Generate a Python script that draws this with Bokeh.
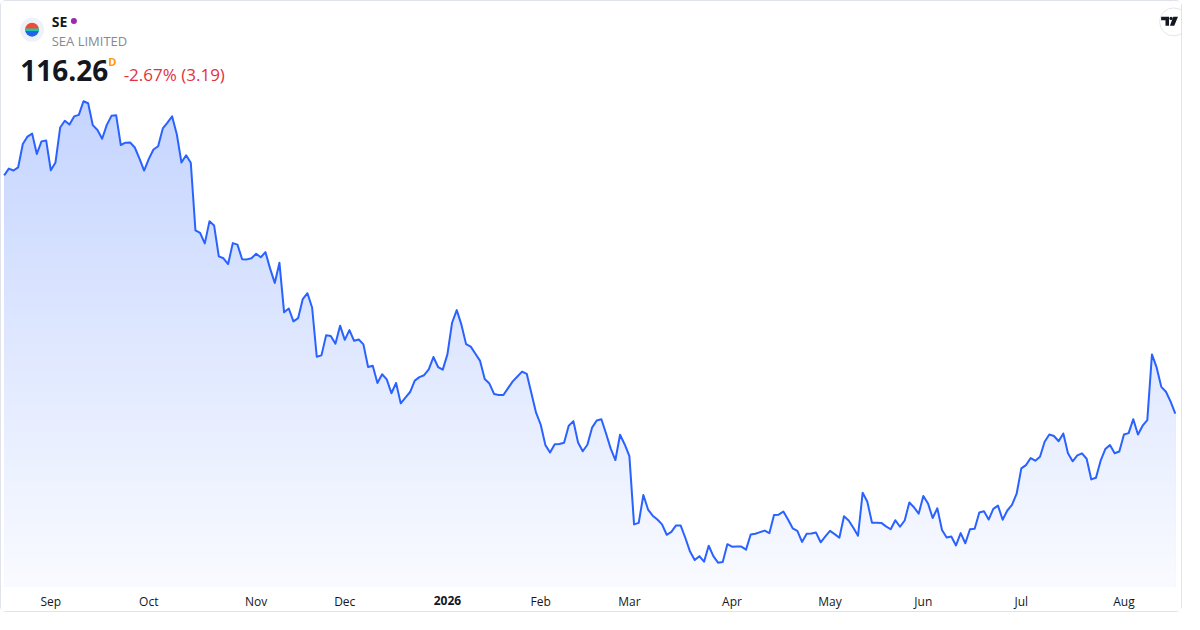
import numpy as np
from bokeh.plotting import figure
from bokeh.models import Range1d, FixedTicker
from bokeh.core.properties import value
from bokeh.embed import file_html
from bokeh.resources import INLINE

# ---------------- data ----------------
prices = [
    179.65, 181.45, 180.94, 181.79, 187.99, 189.98, 190.76, 185.33, 188.69, 188.95,
    181.01, 183.08, 192.38, 194.19, 193.16, 195.33, 195.74, 199.36, 198.84, 193.00,
    191.71, 189.39, 193.08, 195.48, 195.67, 187.73, 188.35, 188.40, 187.06, 184.12,
    180.94, 184.04, 186.54, 187.40, 192.13, 193.68, 195.33, 190.58, 183.08, 184.99,
    183.02, 164.99, 164.32, 161.56, 167.42, 166.29, 158.12, 157.60, 156.05, 161.63,
    161.22, 157.35, 157.30, 157.60, 158.79, 157.86, 159.23, 154.84, 151.04, 156.39,
    143.21, 144.24, 140.81, 141.66, 146.75, 148.30, 144.50, 131.40, 131.76, 137.09,
    136.93, 134.86, 139.67, 135.90, 138.48, 135.64, 135.98, 134.68, 128.66, 129.00,
    124.43, 126.75, 125.38, 121.69, 124.43, 119.00, 120.55, 122.02, 125.05, 125.98,
    126.49, 128.04, 131.32, 128.66, 127.97, 132.02, 140.45, 143.81, 139.93, 134.76,
    134.09, 132.18, 130.29, 125.46, 124.27, 121.51, 121.25, 121.22, 123.06, 124.86,
    126.16, 127.45, 126.85, 121.69, 116.52, 113.31, 107.89, 105.92, 108.15, 108.20,
    108.51, 113.06, 114.27, 108.59, 106.26, 107.99, 112.54, 114.45, 114.79, 110.99,
    106.96, 103.93, 110.65, 108.07, 104.97, 86.80, 87.22, 94.63, 90.76, 89.13,
    88.09, 86.80, 84.04, 84.81, 86.54, 86.50, 83.19, 79.57, 77.32, 78.35,
    76.88, 81.12, 78.35, 76.62, 76.80, 81.53, 80.86, 80.94, 80.90, 80.08,
    84.12, 84.30, 84.74, 85.15, 84.48, 89.28, 89.39, 90.24, 88.09, 85.77,
    85.07, 82.15, 84.30, 84.37, 84.63, 82.05, 83.60, 85.07, 84.22, 83.26,
    88.95, 87.84, 85.92, 83.78, 95.23, 92.82, 87.22, 87.25, 87.20, 86.29,
    85.51, 87.91, 86.18, 87.84, 92.64, 91.35, 89.65, 94.37, 92.38, 88.51,
    91.09, 85.33, 83.34, 83.60, 81.20, 84.48, 81.79, 85.51, 85.67, 89.98,
    90.32, 88.09, 90.94, 91.79, 88.05, 90.50, 91.97, 94.97, 101.69, 102.56,
    104.45, 103.75, 104.79, 108.77, 110.73, 110.32, 108.92, 110.99, 105.74, 103.60,
    105.15, 105.70, 104.27, 98.77, 99.21, 103.75, 106.85, 107.89, 105.74, 106.18,
    110.73, 111.09, 114.79, 110.70, 113.06, 114.53, 132.02, 128.56, 123.39, 122.10,
    119.45, 116.26,
]
month_idx = [10, 31, 54, 73, 95, 115, 134, 156, 177, 197, 218, 240]
month_labels = ["Sep", "Oct", "Nov", "Dec", "2026", "Feb", "Mar", "Apr",
                "May", "Jun", "Jul", "Aug"]
year_idx = 95
symbol = "SE"
company = "SEA LIMITED"
last_price = "116.26"
interval = "D"
change_text = "-2.67% (3.19)"

# ---------------- layout ----------------
W, H = 1182, 612           # + 1px CSS border each side = 1184 x 614
SX, SY = W / 1200.0, H / 630.0
X0, X1 = -0.57, 252.76     # index range across the full width
Y_TOP, Y_BOT = 225.9, 63.1 # price range across the full height
BASE = 70.34               # bottom of the price pane (fill baseline / axis)

FONT = "Open Sans"
LINE = "#2962ff"


def R(xr, yr):
    """reference-pixel position -> data coordinates (for decorations)"""
    fx = xr * SX
    fy = yr * SY
    return (X0 + fx * (X1 - X0) / W, Y_TOP - fy * (Y_TOP - Y_BOT) / H)


p = figure(width=W, height=H, x_range=Range1d(X0, X1), y_range=Range1d(Y_BOT, Y_TOP),
           output_backend="svg", toolbar_location=None, y_axis_location=None,
           min_border_left=0, min_border_right=0, min_border_top=0,
           min_border_bottom=0)
p.styles = {"border": "1px solid #e0e3eb", "border-radius": "6px"}
p.grid.visible = False
p.outline_line_color = None
p.background_fill_color = "white"
p.border_fill_color = "white"

# ---------------- gradient area ----------------
idx = np.arange(len(prices))
pr = np.array(prices)
top_level = R(0, 100)[1]
N = 70
levels = np.linspace(BASE, top_level, N + 1)[1:]
a_bot, a_top = 0.03, 0.27
for k in reversed(range(N)):
    t = k / (N - 1)
    a = a_bot + (a_top - a_bot) * t
    r = round(255 * (1 - a) + 41 * a)
    g = round(255 * (1 - a) + 98 * a)
    col = "#%02x%02x%02x" % (r, g, 255)
    y2 = pr if k == N - 1 else np.minimum(pr, levels[k])
    p.varea(x=idx, y1=BASE, y2=y2, fill_color=col, fill_alpha=1.0)

p.line(idx, pr, line_color=LINE, line_width=2, line_join="round")

# ---------------- x axis (drawn at the pane bottom) ----------------
ax = p.xaxis[0]
ax.fixed_location = BASE
ax.ticker = FixedTicker(ticks=month_idx)
ax.major_label_overrides = {i: ("" if i == year_idx else lab)
                            for i, lab in zip(month_idx, month_labels)}
ax.axis_line_color = None
ax.major_tick_line_color = None
ax.minor_tick_line_color = None
ax.major_tick_out = 0
ax.major_tick_in = 0
ax.major_label_standoff = 7
ax.major_label_text_font = FONT
ax.major_label_text_font_size = "12px"
ax.major_label_text_color = "#131722"

_, yl = R(0, 617)
p.text([year_idx], [yl], text=[month_labels[month_idx.index(year_idx)]],
       text_font=value(FONT), text_font_size="12px", text_font_style="bold",
       text_color="#131722", text_align="center", text_baseline="middle")

# ---------------- header ----------------
lx, ly = R(31, 29)
p.scatter([lx], [ly], size=24, fill_color="#eef1f8", line_color=None)
rad = 7 * (X1 - X0) / W
p.wedge([lx], [ly], radius=rad, start_angle=0, end_angle=np.pi,
        fill_color="#ef4a34", line_color=None)
p.wedge([lx], [ly], radius=rad, start_angle=np.pi, end_angle=2 * np.pi,
        fill_color="#1e63e9", line_color=None)
p.scatter([lx], [ly], size=14, marker="dash", line_color="#20c7b0", line_width=2.5)


def txt(xr, yr, s, size, color, bold=False, align="left"):
    x, y = R(xr, yr)
    p.text([x], [y], text=[s], text_font=value(FONT), text_font_size=size,
           text_font_style="bold" if bold else "normal", text_color=color,
           text_align=align, text_baseline="middle")


txt(51, 20.5, symbol, "14px", "#131722", bold=True)
dx, dy = R(73.5, 20)
p.scatter([dx], [dy], size=6, fill_color="#9c27b0", line_color=None)
txt(51, 41, company, "13px", "#868993")
txt(19, 71.5, last_price, "28px", "#131722", bold=True)
txt(108.5, 61.5, interval, "11px", "#ff9800", bold=True)
txt(124, 75, change_text, "17px", "#e0323e")

# ---------------- TradingView badge ----------------
bx, by = R(1190, 21)
p.scatter([bx], [by], size=28, fill_color="white", line_color="#e3e5ea")
shapes = [
    [(1177.3, 15.8), (1185.3, 15.8), (1185.3, 25), (1181.7, 25), (1181.7, 19.3), (1177.3, 19.3)],
    [(1189.6, 15.8), (1194.4, 15.8), (1190.6, 25), (1186.2, 25)],
]
xs, ys = [], []
for shp in shapes:
    pts = [R(a, b) for a, b in shp]
    xs.append([q[0] for q in pts])
    ys.append([q[1] for q in pts])
p.patches(xs, ys, fill_color="#131722", line_color=None)
ddx, ddy = R(1187.4, 17.4)
p.scatter([ddx], [ddy], size=3.4, fill_color="#131722", line_color=None)

open("out.html", "w").write(file_html(p, INLINE))
